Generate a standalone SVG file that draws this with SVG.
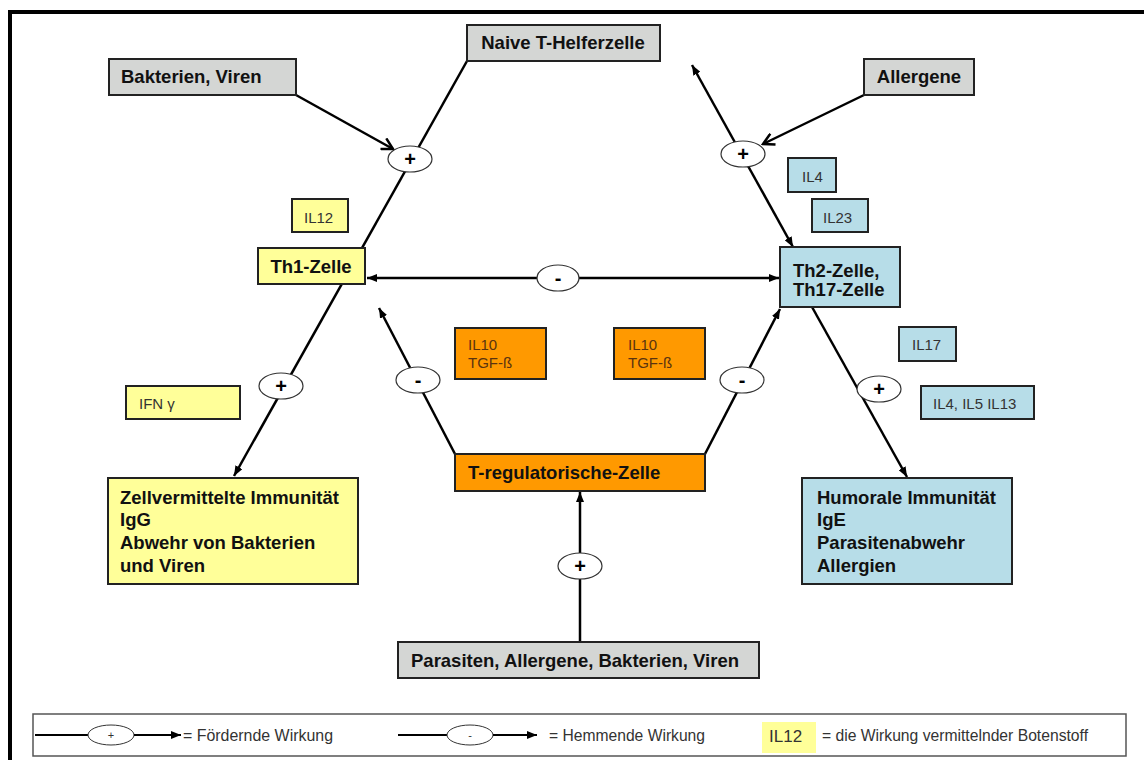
<svg xmlns="http://www.w3.org/2000/svg" width="1144" height="760" viewBox="0 0 1144 760">
  <defs>
    <marker id="arrow" viewBox="0 0 10 8" refX="10" refY="4" markerWidth="10" markerHeight="8" markerUnits="userSpaceOnUse" orient="auto-start-reverse">
      <path d="M0,0 L10,4 L0,8 z" fill="#000"/>
    </marker>
    <marker id="chevron" viewBox="0 0 14 14" refX="12" refY="7" markerWidth="14" markerHeight="14" markerUnits="userSpaceOnUse" orient="auto">
      <path d="M1,1 L12,7 L1,13" fill="none" stroke="#000" stroke-width="2.5"/>
    </marker>
    <style>
      .box { stroke: #222; stroke-width: 2; }
      .grey { fill: #d4d6d4; }
      .yellow { fill: #ffff99; }
      .blue { fill: #b7dde8; }
      .orange { fill: #ff9900; }
      .bold { font-family: "Liberation Sans", Arial, sans-serif; font-weight: bold; font-size: 18.5px; fill: #111; }
      .small { font-family: "Liberation Sans", Arial, sans-serif; font-size: 15px; fill: #333; }
      .cyto { font-family: "Liberation Sans", Arial, sans-serif; font-size: 15px; fill: #5a3410; }
      .link { stroke: #000; stroke-width: 2.5; fill: none; }
      .sign { fill: #fff; stroke: #333; stroke-width: 1.2; }
      .signtxt { font-family: "Liberation Sans", Arial, sans-serif; font-weight: bold; font-size: 20px; fill: #000; text-anchor: middle; }
      .legtxt { font-family: "Liberation Sans", Arial, sans-serif; font-size: 16px; fill: #333; }
      .legsign { font-family: "Liberation Sans", Arial, sans-serif; font-size: 11px; fill: #333; text-anchor: middle; }
    </style>
  </defs>

  <rect x="0" y="0" width="1144" height="760" fill="#fff"/>
  <!-- outer frame -->
  <rect x="10" y="12" width="1150" height="770" fill="none" stroke="#000" stroke-width="4"/>

  <!-- connectors -->
  <g id="connectors">
    <path class="link" d="M467,61 L234,476" marker-end="url(#arrow)"/>
    <path class="link" d="M692,65 L793,247" marker-start="url(#arrow)" marker-end="url(#arrow)"/>
    <path class="link" d="M296,95 L393,149" marker-end="url(#chevron)"/>
    <path class="link" d="M864,95 L763,144" marker-end="url(#chevron)"/>
    <path class="link" d="M367,278 L779,278" marker-start="url(#arrow)" marker-end="url(#arrow)"/>
    <path class="link" d="M455,454 L379,308" marker-end="url(#arrow)"/>
    <path class="link" d="M705,454 L780,309" marker-end="url(#arrow)"/>
    <path class="link" d="M812,307 L907,477" marker-end="url(#arrow)"/>
    <path class="link" d="M580,642 L580,492" marker-end="url(#arrow)"/>

    <g id="sign-plus-th1-in"><ellipse class="sign" cx="410" cy="159" rx="22" ry="13"/><text class="signtxt" x="410" y="166">+</text></g>
    <g id="sign-plus-th2-in"><ellipse class="sign" cx="743" cy="154" rx="22" ry="13"/><text class="signtxt" x="743" y="161">+</text></g>
    <g id="sign-minus-th"><ellipse class="sign" cx="558" cy="278" rx="21" ry="13"/><text class="signtxt" x="558" y="285">-</text></g>
    <g id="sign-plus-th1-out"><ellipse class="sign" cx="281" cy="386" rx="22" ry="13"/><text class="signtxt" x="281" y="393">+</text></g>
    <g id="sign-minus-treg-th1"><ellipse class="sign" cx="418" cy="380" rx="22" ry="13"/><text class="signtxt" x="418" y="387">-</text></g>
    <g id="sign-minus-treg-th2"><ellipse class="sign" cx="742" cy="380" rx="22" ry="13"/><text class="signtxt" x="742" y="387">-</text></g>
    <g id="sign-plus-th2-out"><ellipse class="sign" cx="879" cy="389" rx="22" ry="13"/><text class="signtxt" x="879" y="396">+</text></g>
    <g id="sign-plus-treg"><ellipse class="sign" cx="580" cy="566" rx="22" ry="13"/><text class="signtxt" x="580" y="573">+</text></g>
  </g>

  <!-- nodes -->
  <g id="naive">
    <rect class="box grey" x="467" y="25" width="193" height="36"/>
    <text class="bold" x="563" y="49" text-anchor="middle">Naive T-Helferzelle</text>
  </g>
  <g id="bakterien">
    <rect class="box grey" x="109" y="59" width="187" height="36"/>
    <text class="bold" x="121" y="83">Bakterien, Viren</text>
  </g>
  <g id="allergene">
    <rect class="box grey" x="864" y="59" width="110" height="36"/>
    <text class="bold" x="919" y="83" text-anchor="middle">Allergene</text>
  </g>
  <g id="il12">
    <rect class="box yellow" x="292" y="199" width="56" height="33"/>
    <text class="small" x="304" y="223">IL12</text>
  </g>
  <g id="th1">
    <rect class="box yellow" x="258" y="248" width="107" height="36"/>
    <text class="bold" x="311" y="273" text-anchor="middle">Th1-Zelle</text>
  </g>
  <g id="il4">
    <rect class="box blue" x="788" y="158" width="48" height="34"/>
    <text class="small" x="802" y="182">IL4</text>
  </g>
  <g id="il23">
    <rect class="box blue" x="812" y="199" width="56" height="33"/>
    <text class="small" x="823" y="223">IL23</text>
  </g>
  <g id="th2">
    <rect class="box blue" x="780" y="247" width="120" height="60"/>
    <text class="bold" x="793" y="277">Th2-Zelle,</text>
    <text class="bold" x="793" y="296">Th17-Zelle</text>
  </g>
  <g id="il17">
    <rect class="box blue" x="899" y="327" width="57" height="34"/>
    <text class="small" x="912" y="350">IL17</text>
  </g>
  <g id="il4-il5-il13">
    <rect class="box blue" x="921" y="386" width="113" height="33"/>
    <text class="small" x="933" y="409">IL4, IL5 IL13</text>
  </g>
  <g id="ifn">
    <rect class="box yellow" x="126" y="386" width="114" height="33"/>
    <text class="small" x="139" y="409">IFN γ</text>
  </g>
  <g id="il10-left">
    <rect class="box orange" x="455" y="328" width="91" height="51"/>
    <text class="cyto" x="468" y="350">IL10</text>
    <text class="cyto" x="468" y="368">TGF-ß</text>
  </g>
  <g id="il10-right">
    <rect class="box orange" x="614" y="328" width="91" height="51"/>
    <text class="cyto" x="628" y="350">IL10</text>
    <text class="cyto" x="628" y="368">TGF-ß</text>
  </g>
  <g id="treg">
    <rect class="box orange" x="455" y="454" width="250" height="37"/>
    <text class="bold" x="468" y="479">T-regulatorische-Zelle</text>
  </g>
  <g id="zellvermittelt">
    <rect class="box yellow" x="108" y="478" width="250" height="106"/>
    <text class="bold" x="120" y="504">Zellvermittelte Immunität</text>
    <text class="bold" x="120" y="526">IgG</text>
    <text class="bold" x="120" y="549">Abwehr von Bakterien</text>
    <text class="bold" x="120" y="572">und Viren</text>
  </g>
  <g id="humoral">
    <rect class="box blue" x="802" y="478" width="210" height="106"/>
    <text class="bold" x="817" y="504">Humorale Immunität</text>
    <text class="bold" x="817" y="526">IgE</text>
    <text class="bold" x="817" y="549">Parasitenabwehr</text>
    <text class="bold" x="817" y="572">Allergien</text>
  </g>
  <g id="parasiten">
    <rect class="box grey" x="398" y="642" width="361" height="36"/>
    <text class="bold" x="411" y="667">Parasiten, Allergene, Bakterien, Viren</text>
  </g>

  <!-- legend -->
  <g id="legend">
    <rect x="33" y="714" width="1093" height="42" fill="#fff" stroke="#555" stroke-width="1.5"/>
    <path d="M35,735 L88,735" stroke="#000" stroke-width="2.2"/>
    <ellipse cx="111" cy="735" rx="23" ry="10" fill="#fff" stroke="#333" stroke-width="1"/>
    <text class="legsign" x="111" y="739">+</text>
    <path d="M134,735 L181,735" stroke="#000" stroke-width="2.2" marker-end="url(#arrow)"/>
    <text class="legtxt" x="183" y="741" textLength="150" lengthAdjust="spacingAndGlyphs">= Fördernde Wirkung</text>

    <path d="M398,735 L447,735" stroke="#000" stroke-width="2.2"/>
    <ellipse cx="470" cy="735" rx="23" ry="10" fill="#fff" stroke="#333" stroke-width="1"/>
    <text class="legsign" x="470" y="739">-</text>
    <path d="M493,735 L537,735" stroke="#000" stroke-width="2.2" marker-end="url(#arrow)"/>
    <text class="legtxt" x="549" y="741" textLength="156" lengthAdjust="spacingAndGlyphs">= Hemmende Wirkung</text>

    <rect x="762" y="722" width="54" height="31" fill="#ffff99"/>
    <text class="legtxt" x="769" y="742" style="font-size:17px" fill="#444">IL12</text>
    <text class="legtxt" x="822" y="741" textLength="266" lengthAdjust="spacingAndGlyphs">= die Wirkung vermittelnder Botenstoff</text>
  </g>
</svg>
